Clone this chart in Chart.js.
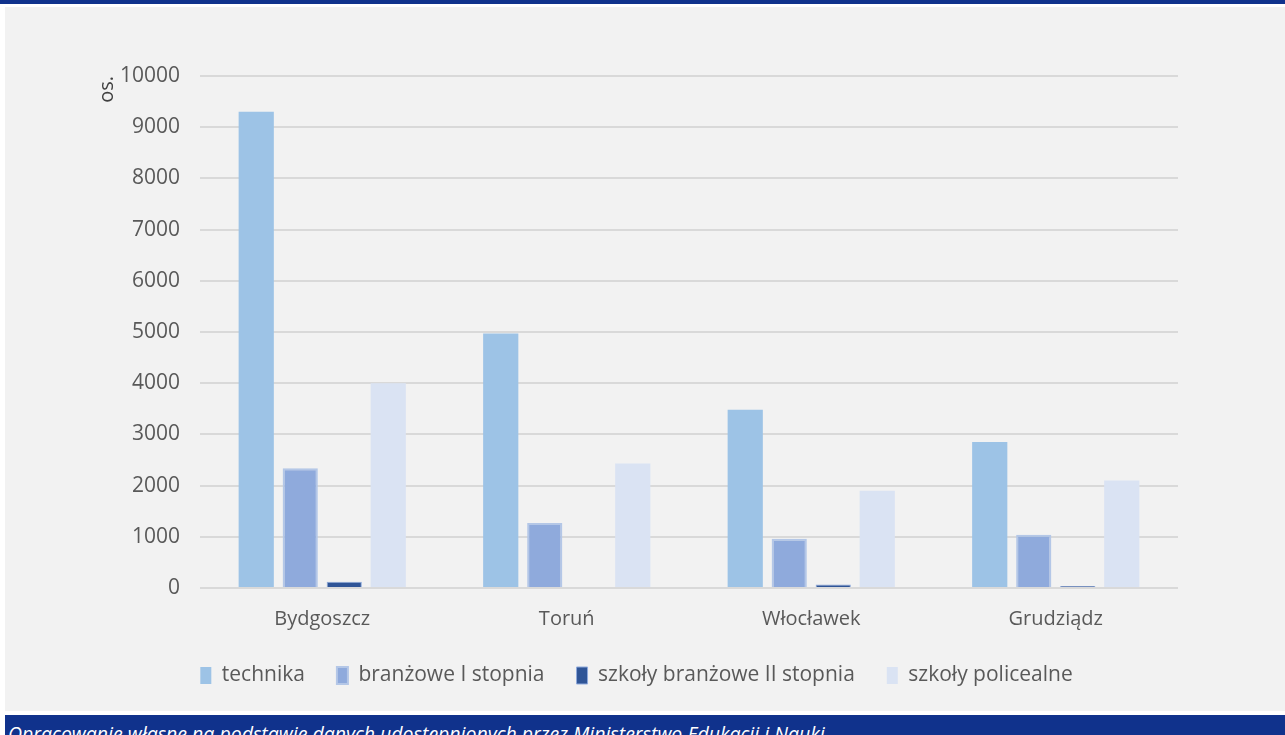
<!DOCTYPE html>
<html>
<head>
<meta charset="utf-8">
<script src="https://cdn.jsdelivr.net/npm/chart.js@4"></script>
<style>
  html, body { margin: 0; padding: 0; background: #fff; width: 1285px; height: 735px; overflow: hidden; }
  #topbar { position: absolute; left: 0; top: 0; width: 1285px; height: 4px; background: #10328c; }
  #panel { position: absolute; left: 5px; top: 7px; width: 1280px; height: 704px; background: #f2f2f2; }
  #source { position: absolute; left: 5px; top: 715px; width: 1280px; height: 20px; background: #10328c; overflow: hidden; }
  #source span { position: absolute; left: 3px; top: 5px; color: #fff; font: italic 19.5px "Open Sans", sans-serif; white-space: nowrap; }
</style>
</head>
<body>
<div id="topbar"></div>
<div id="panel"><canvas id="chart" width="1280" height="704"></canvas></div>
<div id="source"><span>Opracowanie własne na podstawie danych udostępnionych przez Ministerstwo Edukacji i Nauki</span></div>
<script>
const cities = ['Bydgoszcz', 'Toruń', 'Włocławek', 'Grudziądz'];
const technika = [9300, 4970, 3480, 2850];
const branzoweI = [2340, 1270, 960, 1040];
const branzoweII = [120, 0, 70, 40];
const policealne = [4000, 2430, 1900, 2100];
const yTicks = [0, 1000, 2000, 3000, 4000, 5000, 6000, 7000, 8000, 9000, 10000];

const font = { family: '"Open Sans", sans-serif', size: 20 };

const ctx = document.getElementById('chart').getContext('2d');
const chart = new Chart(ctx, {
    type: 'bar',
    data: {
        labels: cities,
        datasets: [
            { label: 'technika', data: technika, backgroundColor: '#9dc3e6', borderColor: '#9dc3e6', borderWidth: 0 },
            { label: 'branżowe I stopnia', data: branzoweI, backgroundColor: '#8faadc', borderColor: '#b4c7e7', borderWidth: 2 },
            { label: 'szkoły branżowe II stopnia', data: branzoweII, backgroundColor: '#2f5597', borderColor: '#8faadc', borderWidth: 1 },
            { label: 'szkoły policealne', data: policealne, backgroundColor: '#dae3f3', borderColor: '#dae3f3', borderWidth: 0 }
        ]
    },
    options: {
        responsive: false,
        animation: false,
        devicePixelRatio: 1,
        categoryPercentage: 0.72,
        barPercentage: 0.8,
        layout: { padding: { left: 90, right: 107, top: 69, bottom: 15 } },
        plugins: {
            legend: {
                position: 'bottom',
                labels: {
                    boxWidth: 11, boxHeight: 17, padding: 32,
                    color: '#595959', font: { family: '"Open Sans", sans-serif', size: 21 }
                }
            },
            tooltip: { enabled: false }
        },
        scales: {
            x: {
                grid: { display: false },
                border: { display: false },
                ticks: { color: '#595959', font: font, padding: 11 },
                afterFit: function (scale) { scale.height = 45; }
            },
            y: {
                min: 0, max: 10000,
                afterBuildTicks: function (scale) { scale.ticks = yTicks.map(v => ({ value: v })); },
                afterFit: function (scale) { scale.width = 105; },
                grid: { color: '#d9d9d9', lineWidth: 2, drawTicks: false },
                border: { display: false },
                ticks: {
                    color: '#595959', font: { family: '"Open Sans", sans-serif', size: 21 }, padding: 20,
                    callback: function (v) { return String(v); }
                },
                title: {
                    display: true, text: 'os.', align: 'end',
                    color: '#404040', font: { family: '"Open Sans", sans-serif', size: 20 },
                    padding: { top: 0, bottom: 0 }
                }
            }
        }
    }
});
</script>
</body>
</html>
